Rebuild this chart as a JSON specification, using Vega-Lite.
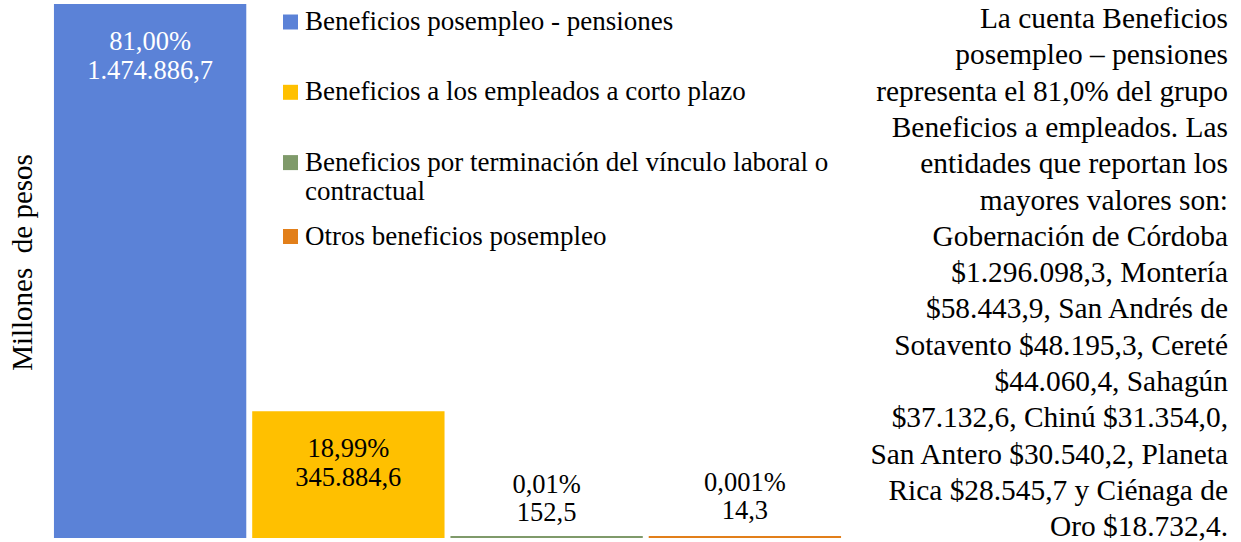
{
  "$schema": "https://vega.github.io/schema/vega-lite/v6.json",
  "width": 795,
  "height": 532,
  "autosize": {"type": "none"},
  "padding": {"left": 50, "top": 5, "right": 396, "bottom": 5},
  "background": "white",
  "config": {"view": {"stroke": null}, "font": "Liberation Serif", "style": {"guide-label": {"lineHeight": 29}}},
  "title": {
    "text": [
      "La cuenta Beneficios",
      "posempleo – pensiones",
      "representa el 81,0% del grupo",
      "Beneficios a empleados. Las",
      "entidades que reportan los",
      "mayores valores son:",
      "Gobernación de Córdoba",
      "$1.296.098,3, Montería",
      "$58.443,9, San Andrés de",
      "Sotavento $48.195,3, Cereté",
      "$44.060,4, Sahagún",
      "$37.132,6, Chinú $31.354,0,",
      "San Antero $30.540,2, Planeta",
      "Rica $28.545,7 y Ciénaga de",
      "Oro $18.732,4."
    ],
    "orient": "bottom",
    "anchor": "end",
    "align": "right",
    "baseline": "top",
    "frame": "group",
    "offset": -533,
    "dx": 383,
    "font": "Liberation Serif",
    "fontSize": 29.4,
    "fontWeight": "normal",
    "lineHeight": 36.3,
    "color": "black"
  },
  "data": {
    "values": [
      {"cat": "Beneficios posempleo - pensiones", "valor": 1474886.7, "label": "81,00%\n1.474.886,7"},
      {"cat": "Beneficios a los empleados a corto plazo", "valor": 345884.6, "label": "18,99%\n345.884,6"},
      {"cat": "Beneficios por terminación del vínculo laboral o contractual", "valor": 152.5, "label": "0,01%\n152,5"},
      {"cat": "Otros beneficios posempleo", "valor": 14.3, "label": "0,001%\n14,3"}
    ]
  },
  "encoding": {
    "x": {"field": "cat", "type": "nominal", "sort": null, "axis": null,
          "scale": {"domain": ["Beneficios posempleo - pensiones", "Beneficios a los empleados a corto plazo", "Beneficios por terminación del vínculo laboral o contractual", "Otros beneficios posempleo"],
                    "paddingInner": 0.04, "paddingOuter": 0.025}},
    "y": {"field": "valor", "type": "quantitative",
          "scale": {"domain": [0, 1474886.7], "nice": false},
          "axis": {"title": "Millones\u00a0 de pesos", "labels": false, "ticks": false, "domain": false, "grid": false,
                   "titleFont": "Liberation Serif", "titleFontSize": 29, "titleFontWeight": "normal",
                   "titleColor": "black", "titlePadding": 13, "titleY": 257}}
  },
  "layer": [
    {
      "transform": [{"filter": "datum.valor > 100"}],
      "mark": {"type": "bar", "strokeWidth": 2},
      "encoding": {
        "color": {"field": "cat", "type": "nominal",
                  "scale": {"domain": ["Beneficios posempleo - pensiones", "Beneficios a los empleados a corto plazo", "Beneficios por terminación del vínculo laboral o contractual", "Otros beneficios posempleo"],
                            "range": ["#5B82D7", "#FFC000", "#7F9A6A", "#E27F1A"]},
                  "legend": {"orient": "none", "legendX": 227, "legendY": 3.5, "title": null, "padding": 0,
                             "values": ["Beneficios posempleo - pensiones", "Beneficios a los empleados a corto plazo", "Beneficios por terminación del vínculo laboral o contractual"],
                             "symbolType": "square", "symbolSize": 225, "symbolStrokeWidth": 0, "symbolOpacity": 1,
                             "labelFont": "Liberation Serif", "labelFontSize": 27, "labelColor": "black",
                             "labelLimit": 700, "labelOffset": 1, "rowPadding": 42.3,
                             "labelExpr": "datum.label == 'Beneficios por terminación del vínculo laboral o contractual' ? ['Beneficios por terminación del vínculo laboral o', 'contractual'] : datum.label"}},
        "stroke": {"field": "cat", "type": "nominal",
                   "scale": {"domain": ["Beneficios posempleo - pensiones", "Beneficios a los empleados a corto plazo", "Beneficios por terminación del vínculo laboral o contractual", "Otros beneficios posempleo"],
                             "range": ["#5B82D7", "#FFC000", "#7F9A6A", "#E27F1A"]}, "legend": null}
      }
    },
    {
      "transform": [{"filter": "datum.valor < 100"}],
      "mark": {"type": "bar", "strokeWidth": 2},
      "encoding": {
        "color": {"field": "cat", "type": "nominal",
                  "legend": {"orient": "none", "legendX": 227, "legendY": 218, "title": null, "padding": 0,
                             "values": ["Otros beneficios posempleo"],
                             "symbolType": "square", "symbolSize": 225, "symbolStrokeWidth": 0, "symbolOpacity": 1,
                             "labelFont": "Liberation Serif", "labelFontSize": 27, "labelColor": "black",
                             "labelLimit": 700, "labelOffset": 1}},
        "stroke": {"field": "cat", "type": "nominal", "legend": null}
      }
    },
    {
      "transform": [{"filter": "datum.valor > 100000"}],
      "mark": {"type": "text", "baseline": "top", "dy": 24, "lineBreak": "\n", "lineHeight": 29,
               "font": "Liberation Serif", "fontSize": 26.5},
      "encoding": {
        "text": {"field": "label"},
        "color": {"condition": {"test": "datum.valor > 1000000", "value": "white"}, "value": "black"}
      }
    },
    {
      "transform": [{"filter": "datum.valor > 100 && datum.valor < 1000"}],
      "mark": {"type": "text", "baseline": "top", "dy": -65, "lineBreak": "\n", "lineHeight": 28.5,
               "font": "Liberation Serif", "fontSize": 26.5, "color": "black"},
      "encoding": {"text": {"field": "label"}}
    },
    {
      "transform": [{"filter": "datum.valor < 100"}],
      "mark": {"type": "text", "baseline": "top", "dy": -67, "lineBreak": "\n", "lineHeight": 28.5,
               "font": "Liberation Serif", "fontSize": 26.5, "color": "black"},
      "encoding": {"text": {"field": "label"}}
    }
  ],
  "resolve": {"legend": {"color": "independent"}}
}
